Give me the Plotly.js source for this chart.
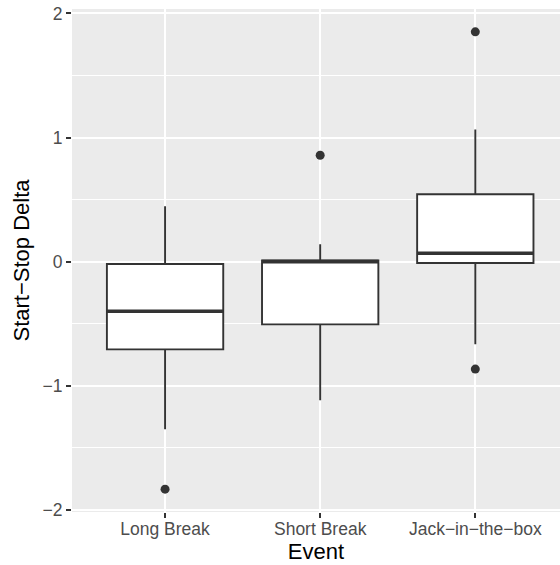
<!DOCTYPE html>
<html>
<head>
<meta charset="utf-8">
<script src="https://cdn.plot.ly/plotly-3.0.1.min.js"></script>
<style>html,body{margin:0;padding:0;background:#fff;}#chart{width:560px;height:565px;}</style>
</head>
<body>
<div id="chart"></div>
<script>
// Data
const categories = ["Long Break", "Short Break", "Jack\u2212in\u2212the\u2212box"];
const q1 = [-0.707, -0.506, -0.011];
const medians = [-0.40, 0.00, 0.067];
const q3 = [-0.019, 0.010, 0.543];
const lowerWhisker = [-1.352, -1.118, -0.667];
const upperWhisker = [0.446, 0.140, 1.064];
const outlierEvent = [0, 1, 2, 2];
const outlierValue = [-1.834, 0.857, 1.852, -0.866];

const idx = categories.map((c, i) => i);
const boxHalf = 0.375;

// median overlay segments (thicker median line, as in ggplot)
const medX = [], medY = [];
idx.forEach(i => { medX.push(i - boxHalf, i + boxHalf, null); medY.push(medians[i], medians[i], null); });

const dark = "#333333";
const traces = [
  {
    type: "box",
    x: idx,
    q1: q1, median: medians, q3: q3,
    lowerfence: lowerWhisker, upperfence: upperWhisker,
    width: 2 * boxHalf,
    whiskerwidth: 0,
    fillcolor: "#FFFFFF",
    line: {color: dark, width: 1.9},
    boxpoints: false,
    hoverinfo: "skip",
    showlegend: false
  },
  {
    type: "scatter", mode: "lines",
    x: medX, y: medY,
    line: {color: dark, width: 3.6},
    hoverinfo: "skip", showlegend: false
  },
  {
    type: "scatter", mode: "markers",
    x: outlierEvent, y: outlierValue,
    marker: {color: dark, size: 9},
    hoverinfo: "skip", showlegend: false
  }
];

const font = "Liberation Sans, Arial, Helvetica, sans-serif";
const layout = {
  width: 560, height: 565,
  margin: {l: 71.5, r: 0, t: 9, b: 53, pad: 0},
  paper_bgcolor: "#FFFFFF",
  plot_bgcolor: "#EBEBEB",
  font: {family: font},
  showlegend: false,
  xaxis: {
    range: [-0.6, 2.546],
    tickvals: idx, ticktext: categories,
    showgrid: true, gridcolor: "#FFFFFF", gridwidth: 2,
    zeroline: false, showline: false,
    ticks: "outside", ticklen: 5, tickwidth: 2, tickcolor: dark,
    ticklabelstandoff: -4,
    tickfont: {size: 17.5, color: "#4D4D4D", family: font},
    title: {text: "Event", font: {size: 22, color: "#000000", family: font}, standoff: 2},
    fixedrange: true
  },
  yaxis: {
    range: [-2.018, 2.036],
    tickvals: [-2, -1, 0, 1, 2],
    showgrid: true, gridcolor: "#FFFFFF", gridwidth: 2,
    minor: {tickvals: [-1.5, -0.5, 0.5, 1.5], showgrid: true, gridcolor: "#FFFFFF", gridwidth: 1, ticks: ""},
    zeroline: false, showline: false,
    ticks: "outside", ticklen: 5, tickwidth: 2, tickcolor: dark,
    tickfont: {size: 17.5, color: "#4D4D4D", family: font},
    title: {text: "Start\u2212Stop Delta", font: {size: 22, color: "#000000", family: font}, standoff: 6},
    fixedrange: true
  }
};

Plotly.newPlot("chart", traces, layout, {displayModeBar: false, staticPlot: true});
</script>
</body>
</html>
